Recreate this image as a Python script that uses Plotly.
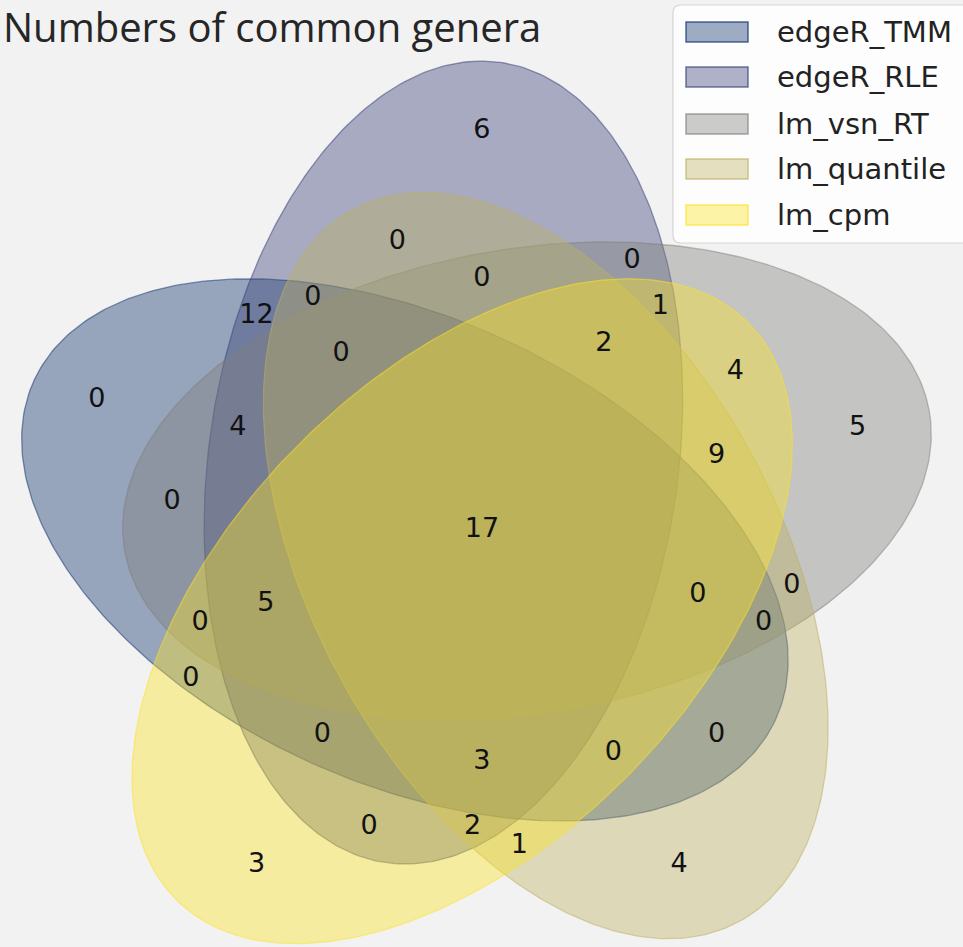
import numpy as np
import plotly.graph_objects as go

# ---------------- data ----------------
set_names = ["edgeR_TMM", "edgeR_RLE", "lm_vsn_RT", "lm_quantile", "lm_cpm"]
set_rgb = [(12, 47, 107), (54, 62, 117), (127, 127, 122), (187, 177, 97), (252, 227, 37)]
set_alpha = 0.4

region_codes = ["00001", "00010", "00011", "00100", "00101", "00110", "00111",
                "01000", "01001", "01010", "01011", "01100", "01101", "01110", "01111",
                "10000", "10001", "10010", "10011", "10100", "10101", "10110", "10111",
                "11000", "11001", "11010", "11011", "11100", "11101", "11110", "11111"]
region_counts = [3, 4, 1, 5, 4, 0, 9,
                 6, 0, 0, 2, 0, 1, 0, 2,
                 0, 0, 0, 0, 0, 0, 0, 0,
                 12, 0, 0, 3, 4, 5, 0, 17]

title_text = "Numbers of common genera"

# ---------------- venn geometry (pyvenn 5-set layout) ----------------
ELLIPSES = [(0.428, 0.449, 0.87, 0.50, 155.0),
            (0.469, 0.543, 0.87, 0.50, 82.0),
            (0.558, 0.523, 0.87, 0.50, 10.0),
            (0.578, 0.432, 0.87, 0.50, 118.0),
            (0.489, 0.383, 0.87, 0.50, 46.0)]
LABEL_POS = {
    "00001": (0.27, 0.11), "00010": (0.72, 0.11), "00011": (0.55, 0.13),
    "00100": (0.91, 0.58), "00101": (0.78, 0.64), "00110": (0.84, 0.41),
    "00111": (0.76, 0.55), "01000": (0.51, 0.90), "01001": (0.39, 0.15),
    "01010": (0.42, 0.78), "01011": (0.50, 0.15), "01100": (0.67, 0.76),
    "01101": (0.70, 0.71), "01110": (0.51, 0.74), "01111": (0.64, 0.67),
    "10000": (0.10, 0.61), "10001": (0.20, 0.31), "10010": (0.76, 0.25),
    "10011": (0.65, 0.23), "10100": (0.18, 0.50), "10101": (0.21, 0.37),
    "10110": (0.81, 0.37), "10111": (0.74, 0.40), "11000": (0.27, 0.70),
    "11001": (0.34, 0.25), "11010": (0.33, 0.72), "11011": (0.51, 0.22),
    "11100": (0.25, 0.58), "11101": (0.28, 0.39), "11110": (0.36, 0.66),
    "11111": (0.51, 0.47),
}

W, H = 963, 947
BG = "#f2f2f2"


def rgba(c, a):
    return "rgba(%d,%d,%d,%.3f)" % (c[0], c[1], c[2], a)


fig = go.Figure()

t = np.linspace(0, 2 * np.pi, 361)
for name, col, (cx, cy, w, h, ang) in zip(set_names, set_rgb, ELLIPSES):
    th = np.deg2rad(ang)
    a, b = w / 2, h / 2
    xs = cx + a * np.cos(t) * np.cos(th) - b * np.sin(t) * np.sin(th)
    ys = cy + a * np.cos(t) * np.sin(th) + b * np.sin(t) * np.cos(th)
    fig.add_trace(go.Scatter(
        x=xs, y=ys, mode="lines", fill="toself",
        fillcolor=rgba(col, set_alpha),
        line=dict(color=rgba(col, 0.5), width=1.3),
        name=name, showlegend=False, hoverinfo="skip"))

fig.add_trace(go.Scatter(
    x=[LABEL_POS[c][0] for c in region_codes],
    y=[LABEL_POS[c][1] for c in region_codes],
    text=[str(v) for v in region_counts],
    mode="text",
    textfont=dict(family="DejaVu Sans", size=27, color="#111111"),
    showlegend=False, hoverinfo="skip"))


def px(x):
    return x / W


def py(y):
    return 1 - y / H


shapes = []
# legend frame (rounded, partly off page)
fx0, fy0, fx1, fy1, r = 673, 5, 990, 243, 8
path = ("M %f,%f L %f,%f L %f,%f L %f,%f Q %f,%f %f,%f L %f,%f Q %f,%f %f,%f Z" % (
    px(fx0 + r), py(fy0), px(fx1), py(fy0), px(fx1), py(fy1), px(fx0 + r), py(fy1),
    px(fx0), py(fy1), px(fx0), py(fy1 - r), px(fx0), py(fy0 + r),
    px(fx0), py(fy0), px(fx0 + r), py(fy0)))
shapes.append(dict(type="path", xref="paper", yref="paper", path=path,
                   fillcolor="rgba(255,255,255,0.8)",
                   line=dict(color="rgba(204,204,204,0.8)", width=1.2), layer="above"))

annotations = []
row_y = [32, 77, 124, 169, 215]
for name, col, ry in zip(set_names, set_rgb, row_y):
    shapes.append(dict(type="rect", xref="paper", yref="paper",
                       x0=px(686), x1=px(748), y0=py(ry - 10), y1=py(ry + 10),
                       fillcolor=rgba(col, set_alpha),
                       line=dict(color=rgba(col, 0.7), width=1.5), layer="above"))
    annotations.append(dict(xref="paper", yref="paper", x=px(775), y=py(ry),
                            xanchor="left", yanchor="middle", showarrow=False,
                            text=name,
                            font=dict(family="DejaVu Sans", size=29, color="#222222")))

annotations.append(dict(xref="paper", yref="paper", x=px(1), y=py(26),
                        xanchor="left", yanchor="middle", showarrow=False,
                        text=title_text,
                        font=dict(family="Open Sans", size=40, color="#262626")))

fig.update_layout(
    width=W, height=H,
    margin=dict(l=0, r=0, t=0, b=0),
    paper_bgcolor=BG, plot_bgcolor=BG,
    xaxis=dict(range=[-3 / 939, 960 / 939], visible=False, fixedrange=True),
    yaxis=dict(range=[(967 - 947) / 929, 967 / 929], visible=False, fixedrange=True),
    shapes=shapes, annotations=annotations,
    showlegend=False,
)

fig.write_html("out.html",
               config={"displayModeBar": False},
               post_script="document.body.style.margin='0';"
                           "document.body.style.background='#f2f2f2';")
